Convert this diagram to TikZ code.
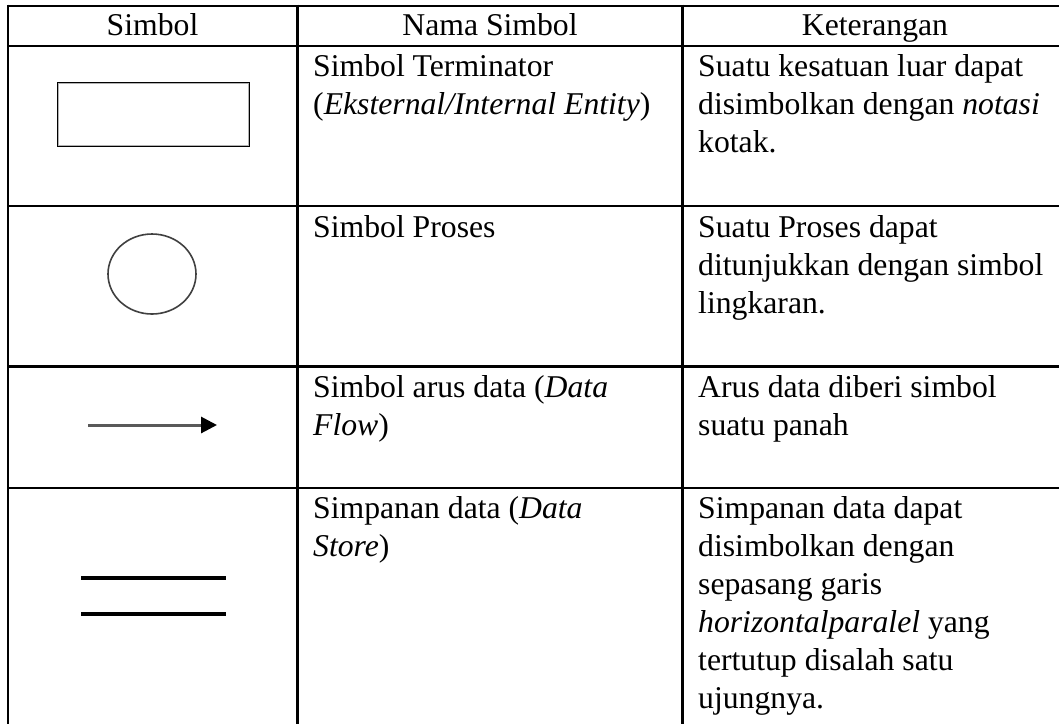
\documentclass[tikz,border=0pt]{standalone}
\usepackage{fontspec}
\setmainfont{Liberation Serif}
\usetikzlibrary{arrows.meta,shapes.geometric}
\begin{document}
\begin{tikzpicture}[x=1pt,y=-1pt,
  rule/.style={line width=2.6pt,black},
  head/.style={font=\fontsize{31.7}{38}\selectfont,inner sep=0pt,anchor=base},
  cell/.style={font=\fontsize{31.7}{38}\selectfont,inner sep=0pt,anchor=north west,align=left},
  symline/.style={line width=3.2pt,black},
]
\useasboundingbox (0,0) rectangle (1059,724);
\fill[white] (0,0) rectangle (1059,724);

% grid of the table
\draw[rule] (8,6) -- (1059,6);
\draw[rule] (8,46) -- (1059,46);
\draw[rule] (8,206) -- (1059,206);
\draw[rule] (8,366.5) -- (1059,366.5);
\draw[rule] (8,488) -- (1059,488);
\draw[rule] (8,4.7) -- (8,724);
\draw[rule] (297.5,4.7) -- (297.5,724);
\draw[rule] (682.5,4.7) -- (682.5,724);

% header
\node[head] (h1) at (152.5,35) {Simbol};
\node[head] (h2) at (490,35) {Nama Simbol};
\node[head] (h3) at (875,35) {Keterangan};

% \rule fixes the height of every first line at 23pt above its baseline
% row 1: terminator
\node[draw=black,line width=2pt,minimum width=191pt,minimum height=63pt,inner sep=0pt] (term) at (153.5,114.5) {};
\draw[black!30,line width=0.8pt] ([shift={(1.6pt,-1.6pt)}]term.north west) rectangle ([shift={(-1.6pt,1.6pt)}]term.south east);
\node[cell] (n1) at (313,76-23) {\rule{0pt}{23pt}Simbol Terminator\\(\textit{Eksternal/Internal Entity})};
\node[cell] (k1) at (698,76-23) {\rule{0pt}{23pt}Suatu kesatuan luar dapat\\disimbolkan dengan \textit{notasi}\\kotak.};

% row 2: process
\node[draw=black!75,line width=1.6pt,ellipse,minimum width=88pt,minimum height=80pt,inner sep=0pt] (proc) at (152,274) {};
\node[cell] (n2) at (313,237-23) {\rule{0pt}{23pt}Simbol Proses};
\node[cell] (k2) at (698,237-23) {\rule{0pt}{23pt}Suatu Proses dapat\\ditunjukkan dengan simbol\\lingkaran.};

% row 3: data flow
\coordinate (fs) at (88,425);
\coordinate (fe) at (217,425);
\draw[black!65,line width=3pt,-{Triangle[length=16pt,width=16pt,black]}] (fs) -- (fe);
\node[cell] (n3) at (313,397-23) {\rule{0pt}{23pt}Simbol arus data (\textit{Data}\\\textit{Flow})};
\node[cell] (k3) at (698,397-23) {\rule{0pt}{23pt}Arus data diberi simbol\\suatu panah};

% row 4: data store
\coordinate (s1a) at (81,578);
\coordinate (s1b) at (226,578);
\coordinate (s2a) at (81,614);
\coordinate (s2b) at (226,614);
\draw[symline] (s1a) -- (s1b);
\draw[symline] (s2a) -- (s2b);
\node[cell] (n4) at (313,518-23) {\rule{0pt}{23pt}Simpanan data (\textit{Data}\\\textit{Store})};
\node[cell] (k4) at (698,518-23) {\rule{0pt}{23pt}Simpanan data dapat\\disimbolkan dengan\\sepasang garis\\\textit{horizontalparalel} yang\\tertutup disalah satu\\ujungnya.};
\end{tikzpicture}
\end{document}
